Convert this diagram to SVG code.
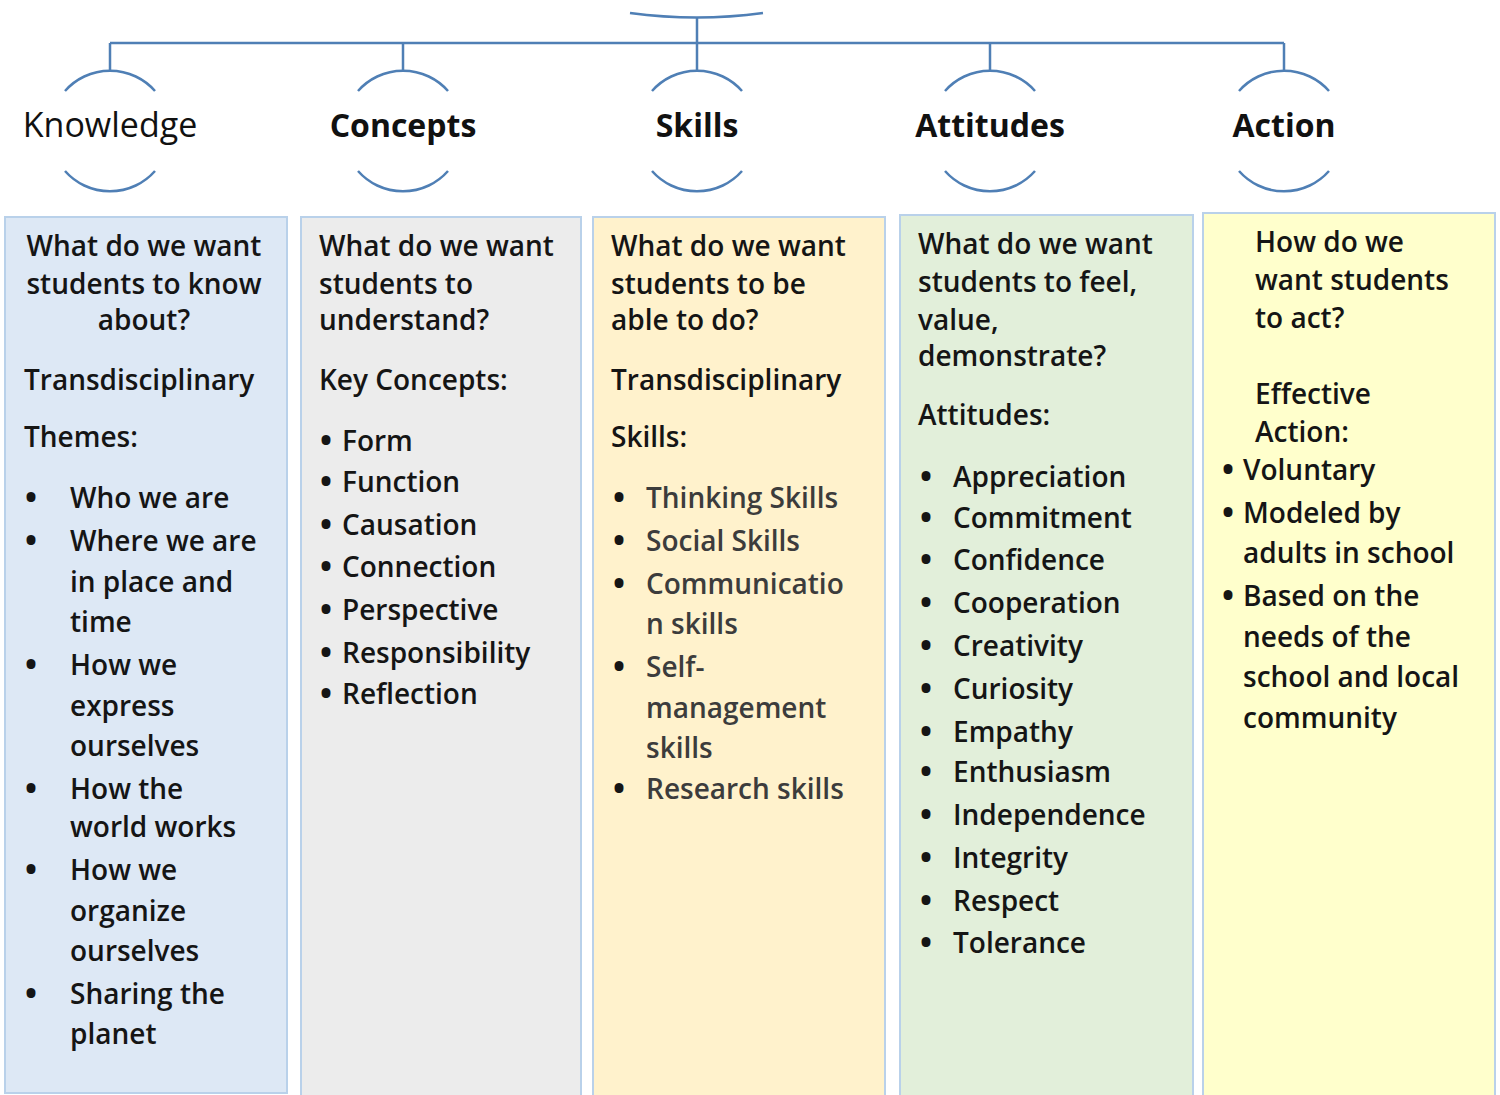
<svg xmlns="http://www.w3.org/2000/svg" width="1500" height="1095" viewBox="0 0 1500 1095">
<style>
.ln{fill:none;stroke:#4f7fb5;stroke-width:2.5}
.hd{font-family:"Open Sans","Noto Sans",sans-serif;font-size:32px;font-weight:700;fill:#111;text-anchor:middle}
.hdn{font-weight:400;font-size:34px}
.t{font-family:"Open Sans","Noto Sans",sans-serif;font-size:28px;font-weight:600;fill:#151515}
.c{text-anchor:middle}
.b{font-weight:800}
.g{fill:#3c3c3c}
.box{stroke:#b9d1ea;stroke-width:2}
</style>
<g id="connectors">
<path class="ln" d="M697,17 V71 M110,43 H1284 M110,43 V71 M403,43 V71 M990,43 V71 M1284,43 V71"/>
</g>
<g id="root">
<path class="ln" d="M630,13 Q697,22 763,13"/>
</g>
<g id="h-knowledge">
<path class="ln" d="M65,91 A60,60 0 0 1 155,91 M65,171 A60,60 0 0 0 155,171"/>
<text class="hd hdn" x="110" y="137">Knowledge</text>
</g>
<g id="h-concepts">
<path class="ln" d="M358,91 A60,60 0 0 1 448,91 M358,171 A60,60 0 0 0 448,171"/>
<text class="hd" x="403" y="137">Concepts</text>
</g>
<g id="h-skills">
<path class="ln" d="M652,91 A60,60 0 0 1 742,91 M652,171 A60,60 0 0 0 742,171"/>
<text class="hd" x="697" y="137">Skills</text>
</g>
<g id="h-attitudes">
<path class="ln" d="M945,91 A60,60 0 0 1 1035,91 M945,171 A60,60 0 0 0 1035,171"/>
<text class="hd" x="990" y="137">Attitudes</text>
</g>
<g id="h-action">
<path class="ln" d="M1239,91 A60,60 0 0 1 1329,91 M1239,171 A60,60 0 0 0 1329,171"/>
<text class="hd" x="1284" y="137">Action</text>
</g>
<g id="b-knowledge">
<rect class="box" x="5" y="217" width="282" height="876" fill="#dde8f5"/>
<text class="t c" x="144" y="256">What do we want</text>
<text class="t c" x="144" y="294">students to know</text>
<text class="t c" x="144" y="330">about?</text>
<text class="t" x="24" y="390">Transdisciplinary</text>
<text class="t" x="24" y="447">Themes:</text>
<text class="t c b" x="31" y="508">•</text><text class="t" x="70" y="508">Who we are</text>
<text class="t c b" x="31" y="551">•</text><text class="t" x="70" y="551">Where we are</text>
<text class="t" x="70" y="592">in place and</text>
<text class="t" x="70" y="632">time</text>
<text class="t c b" x="31" y="675">•</text><text class="t" x="70" y="675">How we</text>
<text class="t" x="70" y="716">express</text>
<text class="t" x="70" y="756">ourselves</text>
<text class="t c b" x="31" y="799">•</text><text class="t" x="70" y="799">How the</text>
<text class="t" x="70" y="837">world works</text>
<text class="t c b" x="31" y="880">•</text><text class="t" x="70" y="880">How we</text>
<text class="t" x="70" y="921">organize</text>
<text class="t" x="70" y="961">ourselves</text>
<text class="t c b" x="31" y="1004">•</text><text class="t" x="70" y="1004">Sharing the</text>
<text class="t" x="70" y="1044">planet</text>
</g>
<g id="b-concepts">
<rect class="box" x="301" y="217" width="280" height="880" fill="#ececec"/>
<text class="t" x="319" y="256">What do we want</text>
<text class="t" x="319" y="294">students to</text>
<text class="t" x="319" y="330">understand?</text>
<text class="t" x="319" y="390">Key Concepts:</text>
<text class="t c b" x="326" y="451">•</text><text class="t" x="342" y="451">Form</text>
<text class="t c b" x="326" y="492">•</text><text class="t" x="342" y="492">Function</text>
<text class="t c b" x="326" y="535">•</text><text class="t" x="342" y="535">Causation</text>
<text class="t c b" x="326" y="577">•</text><text class="t" x="342" y="577">Connection</text>
<text class="t c b" x="326" y="620">•</text><text class="t" x="342" y="620">Perspective</text>
<text class="t c b" x="326" y="663">•</text><text class="t" x="342" y="663">Responsibility</text>
<text class="t c b" x="326" y="704">•</text><text class="t" x="342" y="704">Reflection</text>
</g>
<g id="b-skills">
<rect class="box" x="593" y="217" width="292" height="880" fill="#fff2cc"/>
<text class="t" x="611" y="256">What do we want</text>
<text class="t" x="611" y="294">students to be</text>
<text class="t" x="611" y="330">able to do?</text>
<text class="t" x="611" y="390">Transdisciplinary</text>
<text class="t" x="611" y="447">Skills:</text>
<text class="t c b" x="619" y="508">•</text><text class="t g" x="646" y="508">Thinking Skills</text>
<text class="t c b" x="619" y="551">•</text><text class="t g" x="646" y="551">Social Skills</text>
<text class="t c b" x="619" y="594">•</text><text class="t g" x="646" y="594">Communicatio</text>
<text class="t g" x="646" y="634">n skills</text>
<text class="t c b" x="619" y="677">•</text><text class="t g" x="646" y="677">Self-</text>
<text class="t g" x="646" y="718">management</text>
<text class="t g" x="646" y="758">skills</text>
<text class="t c b" x="619" y="799">•</text><text class="t g" x="646" y="799">Research skills</text>
</g>
<g id="b-attitudes">
<rect class="box" x="900" y="215" width="293" height="882" fill="#e2efda"/>
<text class="t" x="918" y="254">What do we want</text>
<text class="t" x="918" y="292">students to feel,</text>
<text class="t" x="918" y="330">value,</text>
<text class="t" x="918" y="366">demonstrate?</text>
<text class="t" x="918" y="425">Attitudes:</text>
<text class="t c b" x="926" y="487">•</text><text class="t" x="953" y="487">Appreciation</text>
<text class="t c b" x="926" y="528">•</text><text class="t" x="953" y="528">Commitment</text>
<text class="t c b" x="926" y="570">•</text><text class="t" x="953" y="570">Confidence</text>
<text class="t c b" x="926" y="613">•</text><text class="t" x="953" y="613">Cooperation</text>
<text class="t c b" x="926" y="656">•</text><text class="t" x="953" y="656">Creativity</text>
<text class="t c b" x="926" y="699">•</text><text class="t" x="953" y="699">Curiosity</text>
<text class="t c b" x="926" y="742">•</text><text class="t" x="953" y="742">Empathy</text>
<text class="t c b" x="926" y="782">•</text><text class="t" x="953" y="782">Enthusiasm</text>
<text class="t c b" x="926" y="825">•</text><text class="t" x="953" y="825">Independence</text>
<text class="t c b" x="926" y="868">•</text><text class="t" x="953" y="868">Integrity</text>
<text class="t c b" x="926" y="911">•</text><text class="t" x="953" y="911">Respect</text>
<text class="t c b" x="926" y="953">•</text><text class="t" x="953" y="953">Tolerance</text>
</g>
<g id="b-action">
<rect class="box" x="1203" y="213" width="292" height="884" fill="#ffffcc"/>
<text class="t" x="1255" y="252">How do we</text>
<text class="t" x="1255" y="290">want students</text>
<text class="t" x="1255" y="328">to act?</text>
<text class="t" x="1255" y="404">Effective</text>
<text class="t" x="1255" y="442">Action:</text>
<text class="t c b" x="1228" y="480">•</text><text class="t" x="1243" y="480">Voluntary</text>
<text class="t c b" x="1228" y="523">•</text><text class="t" x="1243" y="523">Modeled by</text>
<text class="t" x="1243" y="563">adults in school</text>
<text class="t c b" x="1228" y="606">•</text><text class="t" x="1243" y="606">Based on the</text>
<text class="t" x="1243" y="647">needs of the</text>
<text class="t" x="1243" y="687">school and local</text>
<text class="t" x="1243" y="728">community</text>
</g>
</svg>
